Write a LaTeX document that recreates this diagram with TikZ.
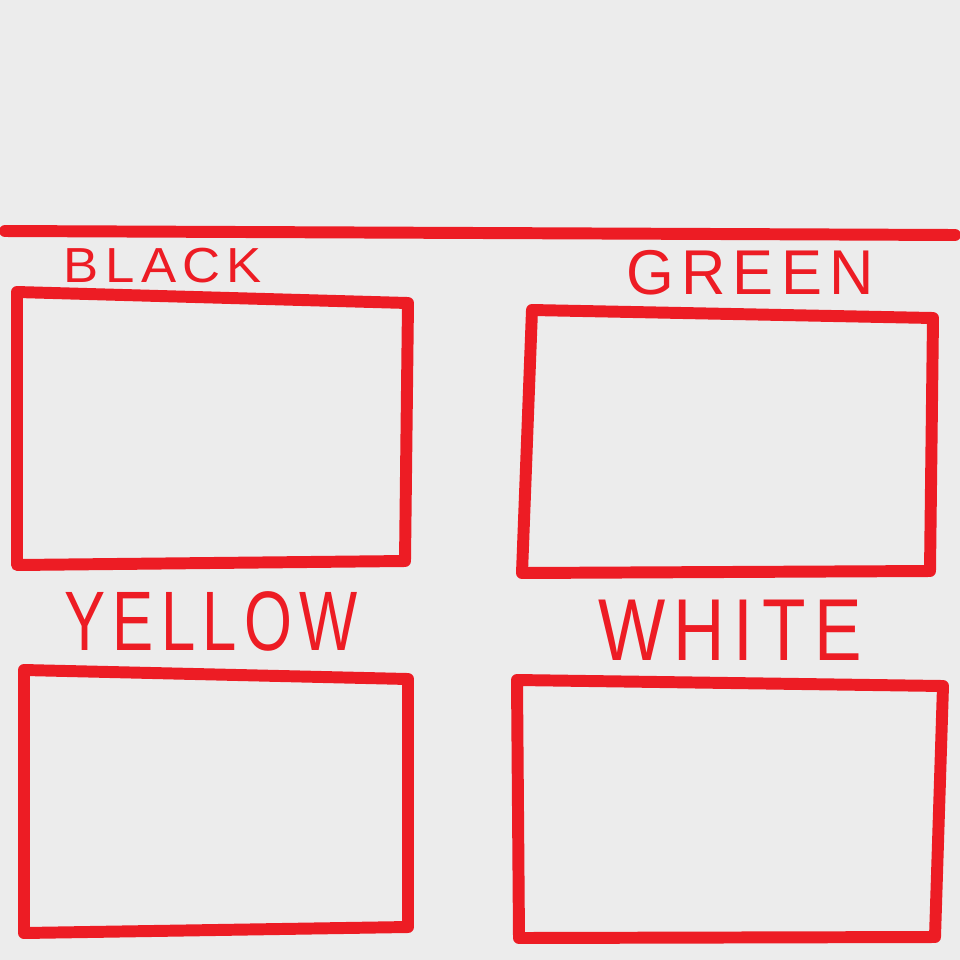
\documentclass[tikz,border=0pt]{standalone}
\usepackage{fontspec}
\setmainfont{Liberation Sans}
\newfontfamily\handfont[LetterSpace=12]{Liberation Sans}
\usepackage{xcolor}
\definecolor{paintred}{HTML}{ED1C24}
\definecolor{paper}{HTML}{ECECEC}

\begin{document}
\begin{tikzpicture}[x=0.01cm,y=-0.01cm,
    stroke/.style={draw=paintred,line width=3.4pt,line cap=round,line join=round},
    colourlabel/.style={text=paintred,font=\handfont,inner sep=0pt}]
    \fill[paper] (0,0) rectangle (960,960);
    \useasboundingbox (0,0) rectangle (960,960);
    \draw[stroke] (5,231) -- (955,235);
    % boxes
    \draw[stroke] (17,292) -- (408,303) -- (405,561) -- (17,565) -- cycle;
    \draw[stroke] (532,310) -- (933,318) -- (930,571) -- (522,573) -- cycle;
    \draw[stroke] (24,670) -- (408,679) -- (408,927) -- (24,933) -- cycle;
    \draw[stroke] (517,680) -- (943,686) -- (935,937) -- (519,938) -- cycle;
    % labels
    \node[colourlabel,font=\handfont\fontsize{14}{14}\selectfont,xscale=1.07] (black) at (163,266) {BLACK};
    \node[colourlabel,font=\handfont\fontsize{18}{18}\selectfont,xscale=0.97] (green) at (750,273) {GREEN};
    \node[colourlabel,font=\handfont\fontsize{24}{24}\selectfont,xscale=0.73] (yellow) at (211,621) {YELLOW};
    \node[colourlabel,font=\handfont\fontsize{25}{25}\selectfont,xscale=0.81] (white) at (730,630) {WHITE};
\end{tikzpicture}
\end{document}
